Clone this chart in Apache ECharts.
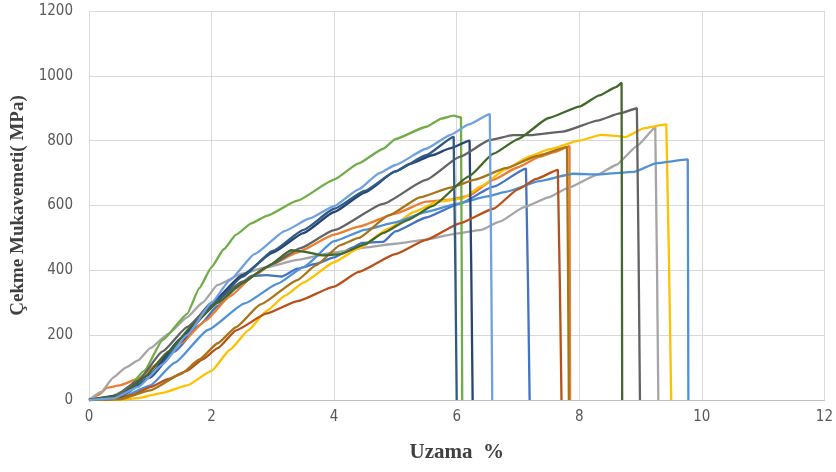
<!DOCTYPE html>
<html>
<head>
<meta charset="utf-8">
<script src="https://cdn.jsdelivr.net/npm/echarts@6/dist/echarts.min.js"></script>
<style>
  html, body { margin: 0; padding: 0; background: #fff; }
  #chart { width: 836px; height: 472px; }
</style>
</head>
<body>
<div id="chart"></div>
<script>
// stress-strain curves, [uzama %, MPa]
const xTicks = [0, 2, 4, 6, 8, 10, 12];
const yTicks = [0, 200, 400, 600, 800, 1000, 1200];

const s1 = [[0,0],[0.3,3],[0.6,20],[1.0,70],[1.4,150],[1.8,230],[2.1,290],[2.4,345],[2.65,383],[2.9,385],[3.15,381],[3.4,405],[3.7,420],[4.0,440],[4.3,470],[4.45,485],[4.8,488],[5.0,520],[5.5,563],[6.05,606],[6.6,658],[7.13,714],[7.19,0]];
const s2 = [[0,0],[0.15,15],[0.3,38],[0.5,45],[0.8,65],[1.1,110],[1.5,175],[1.9,245],[2.3,320],[2.7,385],[3.0,420],[3.4,455],[4.0,510],[4.4,535],[5.0,575],[5.5,612],[5.9,618],[6.2,630],[6.6,680],[7.0,718],[7.35,750],[7.6,765],[7.84,783],[7.85,0]];
const s3 = [[0,0],[0.2,25],[0.4,70],[0.6,100],[0.8,122],[1.0,160],[1.3,205],[1.6,255],[1.85,300],[2.1,355],[2.5,390],[2.9,410],[3.4,432],[4.0,455],[4.5,470],[5.0,482],[5.5,495],[5.95,512],[6.4,525],[6.7,550],[7.1,595],[7.5,625],[7.8,653],[8.3,695],[8.6,725],[8.95,785],[9.24,840],[9.29,0]];
const s4 = [[0,0],[0.5,0],[0.8,6],[1.2,22],[1.6,45],[2.0,90],[2.3,155],[2.6,215],[2.9,275],[3.2,322],[3.5,362],[4.0,425],[4.4,468],[4.9,530],[5.3,580],[5.7,612],[6.1,622],[6.4,660],[6.8,712],[7.2,752],[7.5,773],[8.0,800],[8.35,818],[8.6,815],[8.75,811],[9.05,838],[9.42,850],[9.5,0]];
const s5 = [[0,0],[0.5,5],[1.0,45],[1.4,115],[1.94,216],[2.54,298],[3.09,360],[3.5,410],[4.0,490],[4.5,525],[5.0,548],[5.5,580],[6.0,605],[6.5,628],[6.8,642],[7.35,675],[7.9,698],[8.3,696],[8.9,704],[9.25,730],[9.77,742],[9.78,0]];
const s6 = [[0,0],[0.3,5],[0.6,30],[0.9,90],[1.2,185],[1.6,265],[1.8,345],[2.0,410],[2.2,465],[2.4,510],[2.65,545],[2.9,568],[3.4,615],[4.0,680],[4.4,730],[4.8,775],[5.0,805],[5.5,843],[5.75,868],[5.95,877],[6.07,872],[6.09,0]];
const s7 = [[0,0],[0.5,15],[1.0,80],[1.5,190],[2.0,300],[2.5,385],[3.0,455],[3.5,515],[4.0,580],[4.5,640],[5.0,705],[5.23,728],[5.6,755],[5.89,776],[6.21,800],[6.26,0]];
const s8 = [[0,0],[0.4,3],[0.7,15],[1.0,40],[1.3,65],[1.6,90],[1.85,125],[2.1,160],[2.4,215],[2.9,267],[3.4,305],[4.0,350],[4.4,395],[5.0,450],[5.5,494],[6.05,545],[6.6,590],[7.0,650],[7.3,682],[7.65,710],[7.71,0]];
const s9 = [[0,0],[0.4,10],[0.8,60],[1.2,150],[1.6,225],[2.0,295],[2.5,365],[3.0,420],[3.44,468],[4.0,524],[4.8,605],[5.5,679],[6.05,750],[6.54,802],[6.92,817],[7.2,817],[7.73,828],[8.3,862],[8.66,884],[8.94,900],[8.99,0]];
const s10 = [[0,0],[0.5,2],[1.0,30],[1.5,80],[1.8,125],[2.1,175],[2.4,225],[2.8,295],[3.4,370],[3.7,415],[4.1,478],[4.4,500],[4.9,570],[5.4,625],[5.9,655],[6.3,680],[6.8,715],[7.3,752],[7.8,780],[7.83,0]];
const s11 = [[0,0],[0.5,10],[1.0,70],[1.5,180],[2.0,290],[2.5,380],[3.0,460],[3.5,525],[4.0,590],[4.5,645],[5.0,705],[5.5,755],[5.95,812],[6.0,0]];
const s12 = [[0,0],[0.5,10],[0.9,70],[1.3,150],[1.7,232],[2.1,300],[2.5,360],[2.9,410],[3.3,462],[3.5,458],[3.8,446],[4.1,450],[4.5,480],[4.8,515],[5.2,555],[5.6,598],[6.2,690],[6.6,760],[7.0,805],[7.5,870],[8.0,905],[8.33,940],[8.6,965],[8.69,978],[8.7,0]];
const s13 = [[0,0],[0.4,5],[0.8,40],[1.2,110],[1.6,200],[2.0,300],[2.3,370],[2.7,450],[3.2,522],[3.6,560],[4.0,598],[4.4,650],[4.74,700],[5.0,725],[5.5,775],[5.9,818],[6.2,850],[6.54,882],[6.58,0]];

const curves = [s1, s2, s3, s4, s5, s6, s7, s8, s9, s10, s11, s12, s13];
const colors = ['#4472C4', '#ED7D31', '#A5A5A5', '#FFC000', '#4F91D6', '#70AD47',
                '#264478', '#B8501A', '#636363', '#A8741A', '#2F5B80', '#43682B', '#6FA0E0'];

const chart = echarts.init(document.getElementById('chart'));

chart.setOption({
    animation: false,
    grid: { left: 89, right: 11, top: 11, bottom: 72 },
    xAxis: {
        type: 'value', min: 0, max: 12, interval: 2,
        name: 'Uzama  %', nameLocation: 'middle', nameGap: 42,
        nameTextStyle: { fontFamily: 'Liberation Serif', fontWeight: 'bold', fontSize: 21, color: '#404040' },
        axisLine: { show: true, lineStyle: { color: '#bfbfbf' } },
        axisTick: { show: false },
        axisLabel: { color: '#595959', fontSize: 15, margin: 10, fontFamily: 'Liberation Sans Narrow, DejaVu Sans Condensed, sans-serif',
                     formatter: v => xTicks.includes(v) ? String(v) : '' },
        splitLine: { show: true, lineStyle: { color: '#d9d9d9' } }
    },
    yAxis: {
        type: 'value', min: 0, max: 1200, interval: 200,
        name: 'Çekme Mukavemeti( MPa)', nameLocation: 'middle', nameGap: 56,
        nameTextStyle: { fontFamily: 'Liberation Serif', fontWeight: 'bold', fontSize: 19, color: '#404040', padding: [0, 0, 0, 0] },
        axisLine: { show: false },
        axisTick: { show: false },
        axisLabel: { color: '#595959', fontSize: 15, margin: 16, fontFamily: 'Liberation Sans Narrow, DejaVu Sans Condensed, sans-serif',
                     formatter: v => yTicks.includes(v) ? String(v) : '' },
        splitLine: { show: true, lineStyle: { color: '#d9d9d9' } }
    },
    series: curves.map((c, i) => ({
        type: 'line',
        data: c,
        showSymbol: false,
        smooth: 0.15,
        smoothMonotone: 'x',
        lineStyle: { width: 2.3, color: colors[i] },
        itemStyle: { color: colors[i] },
        z: 2 + i
    }))
});

window.addEventListener('resize', () => chart.resize());
</script>
</body>
</html>
